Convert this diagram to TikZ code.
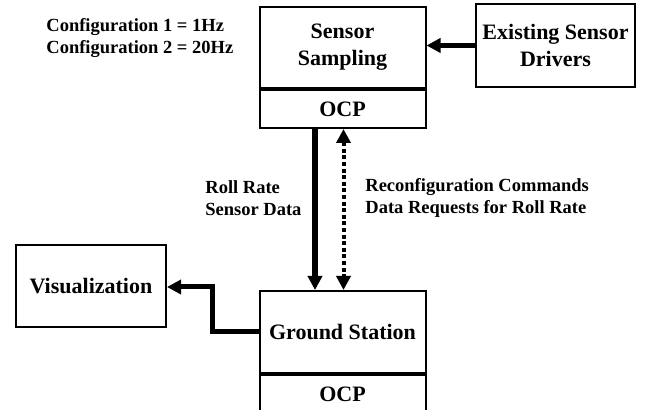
\documentclass[tikz,border=0pt]{standalone}
\usepackage{fontspec}
\setmainfont{Liberation Serif}
\usetikzlibrary{arrows.meta,positioning}

\begin{document}
\begin{tikzpicture}[x=0.5pt,y=-0.5pt,>=Triangle,
unit box/.style={draw,line width=1pt,minimum width=83pt,align=center,inner sep=0pt,font=\fontsize{11}{13.5}\selectfont\bfseries},
flow/.style={-{Triangle[length=7pt,width=7pt]},line width=2.5pt},
dot flow/.style={{Triangle[length=7pt,width=7pt]}-{Triangle[length=7pt,width=7pt]},line width=2pt,dash pattern=on 2pt off 1.3pt},
note/.style={align=left,anchor=west,inner sep=0pt,font=\fontsize{9.25}{11}\selectfont\bfseries}]
\useasboundingbox (0,0) rectangle (646,410);
\node[unit box,minimum height=40.5pt] (sens) at (342.5,47.5) {Sensor\\Sampling};
\node[unit box,minimum height=19pt,below=0pt of sens] (socp) {OCP};
\node[unit box,minimum width=79.5pt,minimum height=41.5pt] (drv) at (555.5,45.5) {Existing Sensor\\Drivers};
\node[unit box,minimum height=41pt] (gnd) at (342.5,332) {Ground Station};
\node[unit box,minimum height=19.5pt,below=0pt of gnd] (gocp) {OCP};
\node[unit box,minimum width=75pt,minimum height=41pt] (vis) at (91,286) {Visualization};
\node[note] (cfg) at (46,38) {Configuration 1 = 1Hz\\Configuration 2 = 20Hz};
\node[note] (roll) at (205,198) {Roll Rate\\Sensor Data};
\node[note] (reqs) at (365,198) {Reconfiguration Commands\\Data Requests for Roll Rate};
\draw[line width=1.5pt] (socp.north west) -- (socp.north east);
\coordinate (bend) at (212,287);
\draw[flow] (drv.west) -- (drv.west -| sens.east);
\draw[flow,line width=3pt] ([xshift=-13.75pt]socp.south) -- ([xshift=-13.75pt]gnd.north);
\draw[dot flow] ([xshift=0.5pt]socp.south) -- ([xshift=0.5pt]gnd.north);
\draw[flow] (gnd.west) -| (bend) -- (bend -| vis.east);
\end{tikzpicture}
\end{document}
